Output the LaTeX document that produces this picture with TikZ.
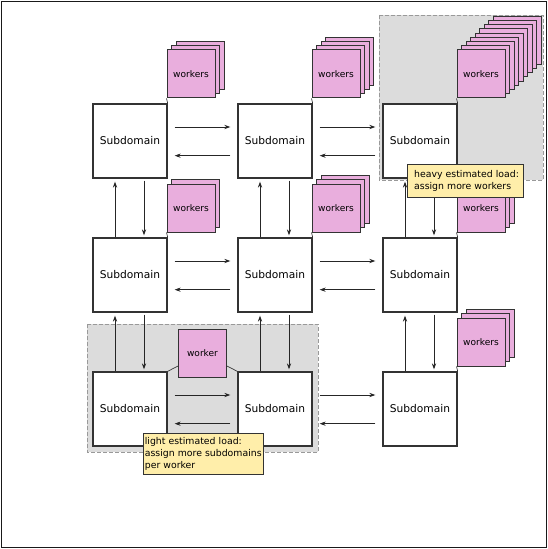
\documentclass[tikz,border=0pt]{standalone}
\usepackage{fontspec}
\setmainfont{DejaVu Sans}
\usetikzlibrary{arrows.meta}
\definecolor{pinkw}{RGB}{233,174,221}
\definecolor{yel}{RGB}{255,238,170}
\definecolor{grayreg}{RGB}{220,220,220}
\definecolor{edgec}{RGB}{51,51,51}
\newcommand\wstack[4]{%
  \foreach \k in {#4,...,1}{
    \node[wk] at ({#2+4.5*\k},{#3-4.2*\k}) {};
  }
  \node[wk] (#1) at (#2,#3) {workers};
}
\newcommand\hpair[2]{%
  \draw[arr,shorten <=5.25pt,shorten >=5.25pt] ([yshift=10.5pt]#1.east) -- ([yshift=10.5pt]#2.west);
  \draw[arr,shorten <=5.25pt,shorten >=5.25pt] ([yshift=-11pt]#2.west) -- ([yshift=-11pt]#1.east);
}
\newcommand\vpair[2]{%
  \draw[arr,shorten >=2.25pt] ([xshift=-11.25pt]#2.north) -- ([xshift=-11.25pt]#1.south);
  \draw[arr,shorten <=1.5pt,shorten >=1.5pt] ([xshift=10.5pt]#1.south) -- ([xshift=10.5pt]#2.north);
}
\begin{document}
\begin{tikzpicture}[x=0.75pt,y=-0.75pt,
 sub/.style={draw=edgec,line width=1pt,fill=white,minimum width=55.5pt,minimum height=55.5pt,inner sep=0pt,font=\fontsize{8}{9.6}\selectfont},
 wk/.style={draw=edgec,line width=0.75pt,fill=pinkw,minimum width=36pt,minimum height=36pt,inner sep=0pt,font=\fontsize{6.8}{8}\selectfont},
 arr/.style={-{Stealth[length=4.5pt,width=3.2pt]},line width=0.55pt,black!85},
 conn/.style={line width=0.5pt,edgec},
 region/.style={draw=gray!80,dash pattern=on 3pt off 1.5pt,fill=grayreg,line width=0.7pt},
 note/.style={draw=edgec,line width=0.75pt,fill=yel,align=left,font=\fontsize{7}{9}\selectfont,inner ysep=2pt}
]
\useasboundingbox (0,0) rectangle (548,549);
\path[fill=white] (0,0) rectangle (548,549);
% highlighted regions
\path[region] (379,15) rectangle (543,180);
\path[region] (87,324) rectangle (318,452);
% frame
\draw[line width=1.1pt,black!90] (1.5,1.5) rectangle (546.5,547.5);
% worker stacks
\wstack{w11}{191}{74}{2}
\wstack{w12}{336}{74}{3}
\wstack{w13}{481}{74}{8}
\wstack{w21}{191}{208}{1}
\wstack{w22}{336}{208}{2}
\wstack{w23}{481}{208}{2}
\wstack{w33}{481}{342}{2}
\node[wk] (w3) at (202.5,353) {worker};
% subdomains
\node[sub] (s11) at (130,141) {Subdomain};
\node[sub] (s12) at (275,141) {Subdomain};
\node[sub] (s13) at (420,141) {Subdomain};
\node[sub] (s21) at (130,275) {Subdomain};
\node[sub] (s22) at (275,275) {Subdomain};
\node[sub] (s23) at (420,275) {Subdomain};
\node[sub] (s31) at (130,409) {Subdomain};
\node[sub] (s32) at (275,409) {Subdomain};
\node[sub] (s33) at (420,409) {Subdomain};
% worker connections
\draw[conn] (s11.north east) -- (w11.south west);
\draw[conn] (s12.north east) -- (w12.south west);
\draw[conn] (s13.north east) -- (w13.south west);
\draw[conn] (s21.north east) -- (w21.south west);
\draw[conn] (s22.north east) -- (w22.south west);
\draw[conn] (s23.north east) -- (w23.south west);
\draw[conn] (s33.north east) -- (w33.south west);
\draw[conn] (s31.north east) -- (w3.208);
\draw[conn] (w3.332) -- (s32.north west);
% arrows
\hpair{s11}{s12}
\hpair{s12}{s13}
\hpair{s21}{s22}
\hpair{s22}{s23}
\hpair{s31}{s32}
\hpair{s32}{s33}
\vpair{s11}{s21}
\vpair{s21}{s31}
\vpair{s12}{s22}
\vpair{s22}{s32}
\vpair{s13}{s23}
\vpair{s23}{s33}
% notes
\node[note,anchor=north west,text width=82pt,inner xsep=2.5pt,minimum height=24.75pt] (heavy) at (407,164) {\hspace*{2.5pt}heavy estimated load:\\\hspace*{2.5pt}assign more workers};
\node[note,anchor=north west,text width=88pt,inner xsep=1pt,minimum height=30.75pt] (light) at (143,433) {light estimated load:\\assign more subdomains\\per worker};
\end{tikzpicture}
\end{document}
